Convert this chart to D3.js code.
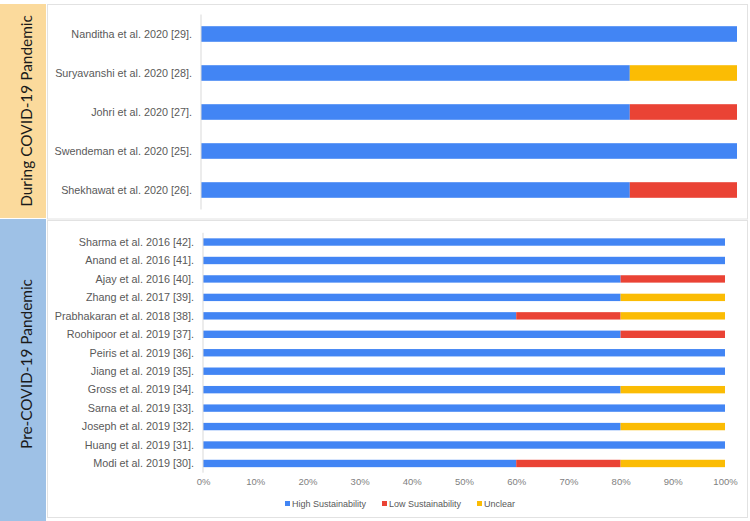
<!DOCTYPE html>
<html>
<head>
<meta charset="utf-8">
<script src="https://cdn.jsdelivr.net/npm/d3@7"></script>
<style>
  body { margin: 0; background: #fff; }
  .lab { font-family: "Liberation Sans", Arial, sans-serif; font-size: 10.8px; fill: #595959; }
  .tick text { font-family: "Liberation Sans", Arial, sans-serif; font-size: 9.5px; fill: #7f7f7f; }
  .panel-title { font-family: Lato, "Open Sans", sans-serif; font-size: 15.4px; fill: #1a1a1a; }
</style>
</head>
<body>
<svg width="750" height="521"></svg>
<script>
// data
var keys = ['High Sustainability', 'Low Sustainability', 'Unclear'];
var colors = ['#4285F4', '#EA4335', '#FBBC04'];

var duringStudies = ['Nanditha et al. 2020 [29].', 'Suryavanshi et al. 2020 [28].', 'Johri et al. 2020 [27].',
  'Swendeman et al. 2020 [25].', 'Shekhawat et al. 2020 [26].'];
var duringHigh = [100, 80, 80, 100, 80];
var duringLow = [0, 0, 20, 0, 20];
var duringUnclear = [0, 20, 0, 0, 0];

var preStudies = ['Sharma et al. 2016 [42].', 'Anand et al. 2016 [41].', 'Ajay et al. 2016 [40].',
  'Zhang et al. 2017 [39].', 'Prabhakaran et al. 2018 [38].', 'Roohipoor et al. 2019 [37].',
  'Peiris et al. 2019 [36].', 'Jiang et al. 2019 [35].', 'Gross et al. 2019 [34].',
  'Sarna et al. 2019 [33].', 'Joseph et al. 2019 [32].', 'Huang et al. 2019 [31].', 'Modi et al. 2019 [30].'];
var preHigh = [100, 100, 80, 80, 60, 80, 100, 100, 80, 100, 80, 100, 60];
var preLow = [0, 0, 20, 0, 20, 20, 0, 0, 0, 0, 0, 0, 20];
var preUnclear = [0, 0, 0, 20, 20, 0, 0, 0, 20, 0, 20, 0, 20];

var xTicks = [0, 10, 20, 30, 40, 50, 60, 70, 80, 90, 100];

var svg = d3.select('svg');

// panel backgrounds
svg.append('rect').attr('x', 0).attr('y', 4).attr('width', 46).attr('height', 214).attr('fill', '#FBDA9C');
svg.append('rect').attr('x', 0).attr('y', 219).attr('width', 46).attr('height', 302).attr('fill', '#9EC1E6');
svg.append('rect').attr('x', 47.5).attr('y', 4.5).attr('width', 700).attr('height', 214.5)
  .attr('fill', '#fff').attr('stroke', '#e2e2e2');
svg.append('rect').attr('x', 47.5).attr('y', 220.5).attr('width', 700).attr('height', 297)
  .attr('fill', '#fff').attr('stroke', '#e2e2e2');

svg.append('text').attr('class', 'panel-title')
  .attr('transform', 'translate(32,111) rotate(-90)')
  .attr('text-anchor', 'middle').text('During COVID-19 Pandemic');
svg.append('text').attr('class', 'panel-title')
  .attr('transform', 'translate(32,364) rotate(-90)')
  .attr('text-anchor', 'middle').text('Pre-COVID-19 Pandemic');

function drawPanel(studies, high, low, unclear, xRange, yRange, showAxis) {
  var rows = studies.map(function(s, i) {
    return {study: s, 'High Sustainability': high[i], 'Low Sustainability': low[i], 'Unclear': unclear[i]};
  });
  var x = d3.scaleLinear().domain([0, 100]).range(xRange);
  var y = d3.scaleBand().domain(studies).range(yRange).paddingInner(0.6).paddingOuter(0.3);
  var stack = d3.stack().keys(keys)(rows);

  var g = svg.append('g');

  g.selectAll('.series')
    .data(stack)
    .enter().append('g')
    .attr('fill', function(d, i) { return colors[i]; })
    .selectAll('rect')
    .data(function(d) { return d; })
    .enter().append('rect')
    .attr('x', function(d) { return x(d[0]); })
    .attr('width', function(d) { return x(d[1]) - x(d[0]); })
    .attr('y', function(d) { return y(d.data.study); })
    .attr('height', y.bandwidth());

  // vertical axis line
  g.append('line')
    .attr('x1', xRange[0]).attr('x2', xRange[0])
    .attr('y1', yRange[0]).attr('y2', yRange[1])
    .attr('stroke', '#d9d9d9');

  g.selectAll('.lab')
    .data(studies)
    .enter().append('text')
    .attr('class', 'lab')
    .attr('x', xRange[0] - 9)
    .attr('y', function(d) { return y(d) + y.bandwidth() / 2; })
    .attr('dy', '0.35em')
    .attr('text-anchor', 'end')
    .text(function(d) { return d; });

  if (showAxis) {
    var ax = g.append('g')
      .attr('transform', 'translate(0,' + (yRange[1] + 3) + ')')
      .call(d3.axisBottom(x).tickValues(xTicks).tickSize(0).tickFormat(function(d) { return d + '%'; }));
    ax.select('.domain').remove();
  }
}

drawPanel(duringStudies, duringHigh, duringLow, duringUnclear, [201, 737], [14.5, 209.5], false);
drawPanel(preStudies, preHigh, preLow, preUnclear, [203, 725], [232.8, 472.7], true);

// legend
var legendX = [285, 382, 477];
var legend = svg.append('g').attr('transform', 'translate(0,504)');
keys.forEach(function(k, i) {
  legend.append('rect').attr('x', legendX[i]).attr('y', -3).attr('width', 5).attr('height', 5).attr('fill', colors[i]);
  legend.append('text').attr('class', 'lab').style('font-size', '9px')
    .attr('x', legendX[i] + 7).attr('y', 0).attr('dy', '0.35em').text(k);
});
</script>
</body>
</html>
